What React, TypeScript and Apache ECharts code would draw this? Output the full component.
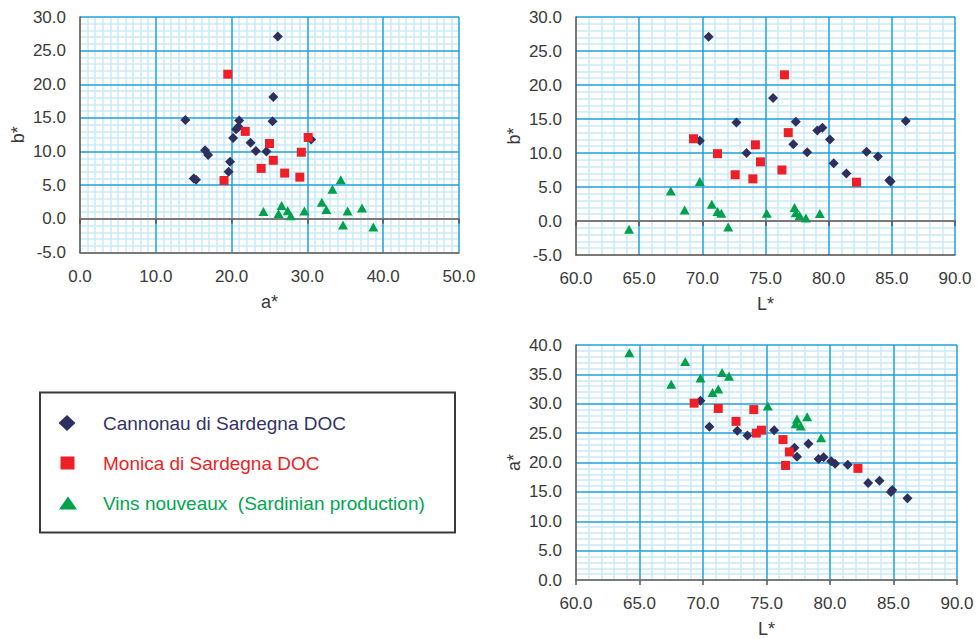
import React, { useEffect, useRef } from 'react';
import * as echarts from 'echarts';

// ---- Data (L*, a*, b*) per sample ----
const cannonauL = [70.5, 69.8, 72.7, 73.5, 75.6, 77.4, 77.2, 78.3, 79.1, 79.5, 80.1, 80.4, 81.4, 83.0, 83.9, 84.8, 84.9, 86.1];
const cannonauA = [26.1, 30.5, 25.4, 24.6, 25.5, 21.0, 22.5, 23.2, 20.6, 20.9, 20.2, 19.8, 19.6, 16.5, 16.9, 15.0, 15.3, 13.9];
const cannonauB = [27.1, 11.8, 14.5, 10.0, 18.1, 14.6, 11.3, 10.1, 13.3, 13.7, 12.0, 8.5, 7.0, 10.2, 9.5, 6.0, 5.8, 14.7];

const monicaL = [69.3, 71.2, 72.6, 74.0, 74.2, 74.6, 76.3, 76.5, 76.8, 82.2];
const monicaA = [30.1, 29.2, 27.0, 29.0, 25.0, 25.5, 23.9, 19.5, 21.8, 19.0];
const monicaB = [12.1, 9.9, 6.8, 6.2, 11.2, 8.7, 7.5, 21.5, 13.0, 5.7];

const vinsL = [64.2, 67.5, 68.6, 69.8, 70.75, 71.2, 71.5, 72.05, 75.1, 77.3, 77.4, 77.7, 78.2, 79.3];
const vinsA = [38.7, 33.3, 37.2, 34.4, 31.9, 32.5, 35.3, 34.7, 29.6, 26.6, 27.4, 26.2, 27.8, 24.2];
const vinsB = [-1.2, 4.4, 1.6, 5.8, 2.45, 1.4, 1.15, -0.9, 1.15, 2.0, 1.2, 0.8, 0.45, 1.1];

const seriesNames = ['Cannonau di Sardegna DOC', 'Monica di Sardegna DOC', 'Vins nouveaux  (Sardinian production)'];

// axis ranges: [min, max, interval, minor divisions, name]
const axA = { min: 0, max: 50, interval: 10, minor: 10, name: 'a*' };
const axB = { min: -5, max: 30, interval: 5, minor: 5, name: 'b*' };
const axL = { min: 60, max: 90, interval: 5, minor: 5, name: 'L*' };
const axA2 = { min: 0, max: 40, interval: 5, minor: 5, name: 'a*' };

const FONT = '"Liberation Sans", Arial, Helvetica, sans-serif';
const MAJOR = '#1ca2dd';
const MINOR = '#c8eafa';
const TEXT = '#3a3a3a';
const NAVY = '#2e2f5e';
const RED = '#ee1f26';
const GREEN = '#00a14b';

const grids = [
  { left: 80, top: 17, width: 379, height: 235.5 },
  { left: 576, top: 17, width: 379, height: 238 },
  { left: 576, top: 345, width: 381, height: 236.5 },
];

type Ax = typeof axA;
const panels: { x: Ax; y: Ax; xs: number[][]; ys: number[][] }[] = [
  { x: axA, y: axB, xs: [cannonauA, monicaA, vinsA], ys: [cannonauB, monicaB, vinsB] },
  { x: axL, y: axB, xs: [cannonauL, monicaL, vinsL], ys: [cannonauB, monicaB, vinsB] },
  { x: axL, y: axA2, xs: [cannonauL, monicaL, vinsL], ys: [cannonauA, monicaA, vinsA] },
];

const symbols = [
  { symbol: 'diamond', size: 10, color: NAVY },
  { symbol: 'rect', size: 9, color: RED },
  { symbol: 'triangle', size: [10, 9], color: GREEN },
];

function fmt(v: number) {
  return v.toFixed(1);
}

function buildOption() {
  const xAxis: any[] = [];
  const yAxis: any[] = [];
  const series: any[] = [];
  panels.forEach((p, g) => {
    const xr = { min: p.x.min, max: p.x.max, interval: p.x.interval };
    const yr = { min: p.y.min, max: p.y.max, interval: p.y.interval };
    // minor x
    xAxis.push({
      type: 'value', gridIndex: g, ...xr, z: 0,
      axisLine: { show: false }, axisTick: { show: false }, axisLabel: { show: false },
      splitLine: { show: false },
      minorTick: { show: false, splitNumber: p.x.minor },
      minorSplitLine: { show: true, lineStyle: { color: MINOR, width: 1.5 } },
    });
    // main x
    xAxis.push({
      type: 'value', gridIndex: g, ...xr, z: 1, position: 'bottom',
      axisLine: { show: true, onZero: false, lineStyle: { color: '#4d4d4d', width: 1.5 } },
      axisTick: { show: false },
      axisLabel: { formatter: fmt, fontFamily: FONT, fontSize: 17, color: TEXT, margin: 15 },
      splitLine: { show: true, showMinLine: false, lineStyle: { color: MAJOR, width: 1.5 } },
      name: p.x.name, nameLocation: 'middle', nameGap: 40,
      nameTextStyle: { fontFamily: FONT, fontSize: 18, color: TEXT },
    });
    // zero line x
    xAxis.push({
      type: 'value', gridIndex: g, ...xr, z: 2, position: 'bottom',
      axisLine: { show: true, onZero: true, onZeroAxisIndex: 2 * g + 1, lineStyle: { color: '#7a7a7a', width: 2 } },
      axisTick: { show: true, length: 5, lineStyle: { color: '#555', width: 1.5 } },
      axisLabel: { show: false },
      splitLine: { show: false },
    });
    // minor y
    yAxis.push({
      type: 'value', gridIndex: g, ...yr, z: 0,
      axisLine: { show: false }, axisTick: { show: false }, axisLabel: { show: false },
      splitLine: { show: false },
      minorTick: { show: false, splitNumber: p.y.minor },
      minorSplitLine: { show: true, lineStyle: { color: MINOR, width: 1.5 } },
    });
    // main y
    yAxis.push({
      type: 'value', gridIndex: g, ...yr, z: 1, position: 'left',
      axisLine: { show: true, onZero: false, lineStyle: { color: '#4d4d4d', width: 1.5 } },
      axisTick: { show: false },
      axisLabel: { formatter: fmt, fontFamily: FONT, fontSize: 17, color: TEXT, margin: 14 },
      splitLine: { show: true, showMinLine: false, lineStyle: { color: MAJOR, width: 1.5 } },
      name: p.y.name, nameLocation: 'middle', nameGap: 53,
      nameTextStyle: { fontFamily: FONT, fontSize: 18, color: TEXT },
    });
    p.xs.forEach((xs, s) => {
      const ys = p.ys[s];
      series.push({
        type: 'scatter',
        name: seriesNames[s],
        xAxisIndex: 3 * g + 1,
        yAxisIndex: 2 * g + 1,
        symbol: symbols[s].symbol,
        symbolSize: symbols[s].size,
        itemStyle: { color: symbols[s].color, opacity: 1 },
        z: 5 + s,
        data: xs.map((x, i) => [x, ys[i]]),
      });
    });
  });

  const lx = 67;
  const rows = [423, 463, 503.5];
  const graphic: any[] = [
    { type: 'rect', shape: { x: 40, y: 392.5, width: 415, height: 140 }, style: { fill: '#fff', stroke: '#3a3a3a', lineWidth: 2 }, z: 10 },
    { type: 'polygon', shape: { points: [[lx, rows[0] - 8], [lx + 8.5, rows[0]], [lx, rows[0] + 8], [lx - 8.5, rows[0]]] }, style: { fill: NAVY }, z: 11 },
    { type: 'rect', shape: { x: lx - 6.5, y: rows[1] - 6.5, width: 14, height: 13 }, style: { fill: RED }, z: 11 },
    { type: 'polygon', shape: { points: [[lx + 1, rows[2] - 7], [lx + 10, rows[2] + 6], [lx - 8, rows[2] + 6]] }, style: { fill: GREEN }, z: 11 },
  ];
  const colors = ['#33336b', RED, '#00a651'];
  seriesNames.forEach((n, i) => {
    graphic.push({
      type: 'text', x: 103, y: rows[i], z: 11,
      style: { text: n, fill: colors[i], font: `19px ${FONT}`, textVerticalAlign: 'middle', verticalAlign: 'middle' },
    });
  });

  return {
    animation: false,
    backgroundColor: '#fff',
    grid: grids.map((g) => ({ ...g, containLabel: false })),
    xAxis,
    yAxis,
    series,
    graphic,
  };
}

export default function App() {
  const ref = useRef<HTMLDivElement>(null);
  useEffect(() => {
    if (!ref.current) return;
    const chart = echarts.init(ref.current, undefined, { renderer: 'svg' });
    chart.setOption(buildOption() as any);
    return () => chart.dispose();
  }, []);
  return <div ref={ref} style={{ position: 'absolute', left: 0, top: 0, width: 977, height: 639 }} />;
}
